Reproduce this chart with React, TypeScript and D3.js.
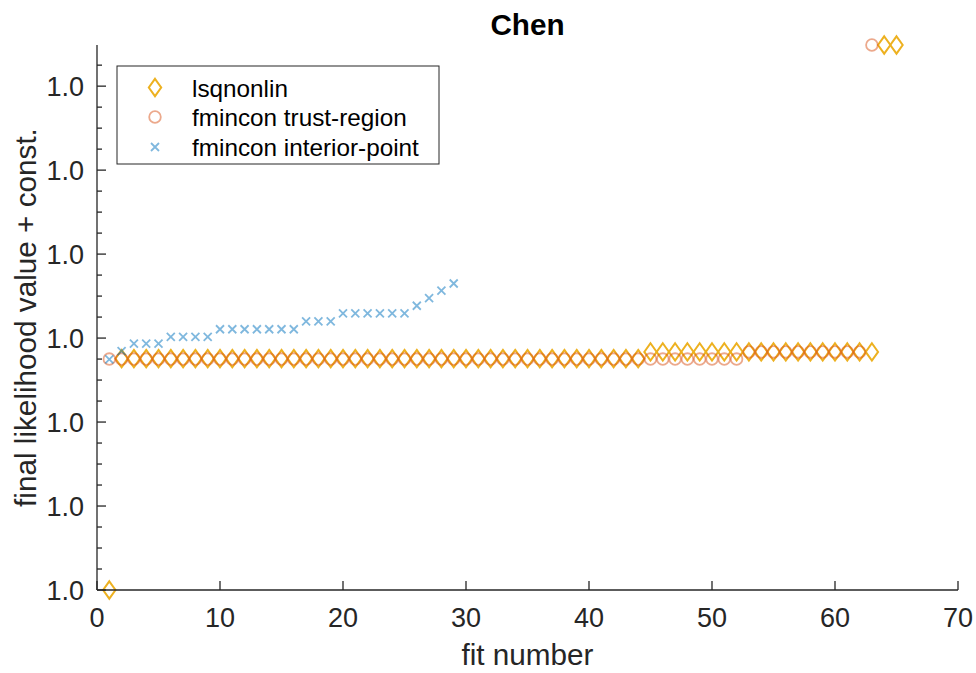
import React from "react";
import * as d3 from "d3";

// Final likelihood values per fit, one array per optimizer (fit number = index + 1)
const lsqnonlin: number[] = [
  1.0,
  1.00551, 1.00551, 1.00551, 1.00551, 1.00551, 1.00551, 1.00551, 1.00551, 1.00551, 1.00551,
  1.00551, 1.00551, 1.00551, 1.00551, 1.00551, 1.00551, 1.00551, 1.00551, 1.00551, 1.00551,
  1.00551, 1.00551, 1.00551, 1.00551, 1.00551, 1.00551, 1.00551, 1.00551, 1.00551, 1.00551,
  1.00551, 1.00551, 1.00551, 1.00551, 1.00551, 1.00551, 1.00551, 1.00551, 1.00551, 1.00551,
  1.00551, 1.00551, 1.00551,
  1.00567, 1.00567, 1.00567, 1.00567, 1.00567, 1.00567, 1.00567, 1.00567, 1.00567, 1.00567,
  1.00567, 1.00567, 1.00567, 1.00567, 1.00567, 1.00567, 1.00567, 1.00567, 1.00567,
  1.01298, 1.01298,
];

const trustRegion: number[] = [
  1.0055, 1.0055, 1.0055, 1.0055, 1.0055, 1.0055, 1.0055, 1.0055, 1.0055, 1.0055,
  1.0055, 1.0055, 1.0055, 1.0055, 1.0055, 1.0055, 1.0055, 1.0055, 1.0055, 1.0055,
  1.0055, 1.0055, 1.0055, 1.0055, 1.0055, 1.0055, 1.0055, 1.0055, 1.0055, 1.0055,
  1.0055, 1.0055, 1.0055, 1.0055, 1.0055, 1.0055, 1.0055, 1.0055, 1.0055, 1.0055,
  1.0055, 1.0055, 1.0055, 1.0055, 1.0055, 1.0055, 1.0055, 1.0055, 1.0055, 1.0055,
  1.0055, 1.0055,
  1.00567, 1.00567, 1.00567, 1.00567, 1.00567, 1.00567, 1.00567, 1.00567, 1.00567, 1.00567,
  1.01298,
];

const interiorPoint: number[] = [
  1.00549, 1.00569,
  1.00587, 1.00587, 1.00587,
  1.00603, 1.00603, 1.00603, 1.00603,
  1.00621, 1.00621, 1.00621, 1.00621, 1.00621, 1.00621, 1.00621,
  1.0064, 1.0064, 1.0064,
  1.00659, 1.00659, 1.00659, 1.00659, 1.00659, 1.00659,
  1.00677, 1.00695, 1.00713, 1.0073,
];

const xTicks: number[] = [0, 10, 20, 30, 40, 50, 60, 70];
const yTicks: number[] = [1.0, 1.002, 1.004, 1.006, 1.008, 1.01, 1.012];
const yMinorTicks: number[] = [
  1.0005, 1.001, 1.0015, 1.0025, 1.003, 1.0035, 1.0045, 1.005, 1.0055, 1.0065, 1.007,
  1.0075, 1.0085, 1.009, 1.0095, 1.0105, 1.011, 1.0115, 1.0125,
];

const legendLabels: string[] = [
  "lsqnonlin",
  "fmincon trust-region",
  "fmincon interior-point",
];

const W = 976;
const H = 673;
const margin = { left: 97, right: 18, top: 45, bottom: 83 };
const FONT = "'Liberation Sans', Arial, Helvetica, sans-serif";
const AXIS = "#262626";
const C_LSQ = "#EDB120";
const C_TR = "#D95319";
const C_IP = "#0072BD";

const yMax = d3.max([...lsqnonlin, ...trustRegion, ...interiorPoint]) as number;

const x = d3.scaleLinear().domain([0, 70]).range([margin.left, W - margin.right]);
const y = d3.scaleLinear().domain([1.0, yMax]).range([H - margin.bottom, margin.top]);
const fmt = d3.format(".1f");

const diamondPath = (cx: number, cy: number) =>
  `M${cx},${cy - 8.7}L${cx + 6.2},${cy}L${cx},${cy + 8.7}L${cx - 6.2},${cy}Z`;
const crossPath = (cx: number, cy: number) =>
  `M${cx - 4},${cy - 4}L${cx + 4},${cy + 4}M${cx - 4},${cy + 4}L${cx + 4},${cy - 4}`;

export default function App() {
  const x0 = x.range()[0];
  const x1 = x.range()[1];
  const yb = y.range()[0];
  const yt = y.range()[1];
  const cx = (x0 + x1) / 2;

  const legX = 117;
  const legY = 66;
  const legRows = [87.5, 117, 147];

  return (
    <svg
      width={W}
      height={H}
      style={{ position: "absolute", left: 0, top: 0, background: "#fff" }}
      fontFamily={FONT}
    >
      <rect x={0} y={0} width={W} height={H} fill="#fff" />

      {/* markers */}
      <g fill="none">
        {lsqnonlin.map((v, i) => (
          <path key={`d${i}`} d={diamondPath(x(i + 1), y(v))} stroke={C_LSQ} strokeWidth={2} />
        ))}
        {trustRegion.map((v, i) => (
          <circle
            key={`c${i}`}
            cx={x(i + 1)}
            cy={y(v)}
            r={5.8}
            stroke={C_TR}
            strokeOpacity={0.5}
            strokeWidth={1.8}
          />
        ))}
        {interiorPoint.map((v, i) => (
          <path
            key={`x${i}`}
            d={crossPath(x(i + 1), y(v))}
            stroke={C_IP}
            strokeOpacity={0.5}
            strokeWidth={1.8}
          />
        ))}
      </g>

      {/* axes */}
      <g stroke={AXIS} strokeWidth={1.3} fill="none">
        <line x1={x0} x2={x0} y1={yt} y2={yb} />
        <line x1={x0} x2={x1} y1={yb} y2={yb} />
        {xTicks.map((t) => (
          <line key={`xt${t}`} x1={x(t)} x2={x(t)} y1={yb} y2={yb - 9} />
        ))}
        {yTicks.map((t) => (
          <line key={`yt${t}`} x1={x0} x2={x0 + 9} y1={y(t)} y2={y(t)} />
        ))}
        {yMinorTicks.map((t) => (
          <line key={`ym${t}`} x1={x0} x2={x0 + 5} y1={y(t)} y2={y(t)} />
        ))}
      </g>

      <g fill={AXIS} fontSize={27}>
        {xTicks.map((t) => (
          <text key={`xl${t}`} x={x(t)} y={yb + 37} textAnchor="middle">
            {t}
          </text>
        ))}
        {yTicks.map((t) => (
          <text key={`yl${t}`} x={84} y={y(t) + 10} textAnchor="end">
            {fmt(t)}
          </text>
        ))}
      </g>

      <text x={cx} y={665} textAnchor="middle" fontSize={29.7} fill={AXIS}>
        fit number
      </text>
      <text
        transform={`translate(36,${(yt + yb) / 2}) rotate(-90)`}
        textAnchor="middle"
        fontSize={29.7}
        fill={AXIS}
      >
        final likelihood value + const.
      </text>
      <text x={cx} y={35} textAnchor="middle" fontSize={29.7} fontWeight="bold" fill="#000">
        Chen
      </text>

      {/* legend */}
      <rect x={legX} y={legY} width={322} height={98} fill="#fff" stroke={AXIS} strokeWidth={1} />
      <path d={diamondPath(155, legRows[0])} fill="none" stroke={C_LSQ} strokeWidth={2} />
      <circle cx={155} cy={legRows[1]} r={5.8} fill="none" stroke={C_TR} strokeOpacity={0.5} strokeWidth={1.8} />
      <path d={crossPath(155, legRows[2])} fill="none" stroke={C_IP} strokeOpacity={0.5} strokeWidth={1.8} />
      {legendLabels.map((s, i) => (
        <text key={s} x={192} y={legRows[i] + 9} fontSize={24.3} fill="#000">
          {s}
        </text>
      ))}
    </svg>
  );
}
